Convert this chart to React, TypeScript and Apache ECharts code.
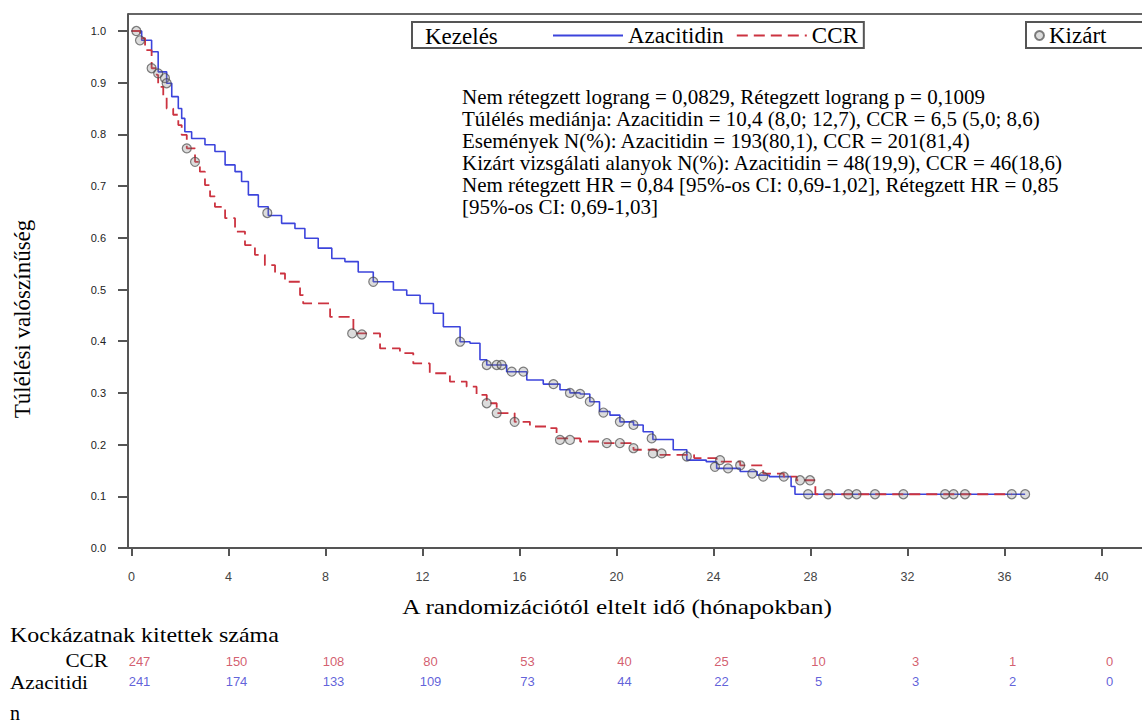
import React, { useEffect, useRef } from "react";
import * as echarts from "echarts";

// ---- Data ----
const azaTime = [0, 0.42, 0.83, 1.1, 1.45, 1.66, 1.93, 2.07, 2.2, 2.48, 3.03, 3.44, 3.86, 4.27, 4.54, 4.82, 5.23, 5.64, 6.19, 6.74, 7.15, 7.7, 8.26, 8.8, 9.35, 9.97, 10.8, 11.35, 11.9, 12.45, 12.86, 13.55, 13.96, 14.37, 14.65, 15.47, 16.3, 16.98, 17.67, 18.08, 18.5, 18.9, 19.3, 19.73, 20.14, 20.7, 21.1, 21.5, 22.34, 22.9, 23.7, 24.13, 25.1, 25.8, 26.3, 27.2, 27.36, 36.85];
const azaSurv = [1.0, 0.982, 0.96, 0.921, 0.899, 0.873, 0.85, 0.831, 0.805, 0.792, 0.78, 0.767, 0.741, 0.728, 0.709, 0.683, 0.66, 0.643, 0.628, 0.618, 0.599, 0.58, 0.56, 0.554, 0.534, 0.515, 0.499, 0.489, 0.473, 0.454, 0.428, 0.399, 0.396, 0.364, 0.354, 0.341, 0.325, 0.317, 0.306, 0.3, 0.298, 0.283, 0.264, 0.257, 0.244, 0.238, 0.225, 0.21, 0.19, 0.17, 0.167, 0.154, 0.148, 0.141, 0.138, 0.119, 0.104, 0.104];

const ccrTime = [0, 0.35, 0.56, 0.83, 1.04, 1.1, 1.31, 1.45, 1.72, 1.93, 2.07, 2.28, 2.62, 2.82, 3.03, 3.24, 3.44, 3.86, 4.27, 4.68, 5.09, 5.5, 5.92, 6.33, 6.95, 7.08, 8.19, 9.15, 10.25, 11.07, 11.62, 12.3, 13.13, 13.82, 14.23, 14.65, 15.06, 15.8, 16.43, 17.12, 17.53, 18.5, 19.5, 20.7, 21.66, 23.2, 24.13, 25.1, 26.05, 26.9, 27.43, 28.2, 36.3];
const ccrSurv = [1.0, 0.986, 0.963, 0.928, 0.915, 0.892, 0.873, 0.85, 0.838, 0.818, 0.799, 0.773, 0.747, 0.728, 0.702, 0.68, 0.66, 0.638, 0.612, 0.586, 0.567, 0.547, 0.531, 0.515, 0.489, 0.473, 0.447, 0.415, 0.386, 0.377, 0.357, 0.338, 0.322, 0.312, 0.296, 0.28, 0.261, 0.244, 0.235, 0.232, 0.212, 0.206, 0.203, 0.19, 0.18, 0.174, 0.167, 0.16, 0.144, 0.138, 0.131, 0.104, 0.104];

const azaCensTime = [0.35, 1.1, 1.38, 1.45, 5.6, 9.97, 13.55, 14.65, 15.06, 15.26, 15.68, 16.16, 17.4, 18.08, 18.5, 18.9, 19.46, 20.14, 20.7, 21.45, 22.9, 24.06, 24.6, 25.6, 26.05, 26.9, 27.9, 29.9, 30.66, 34.37, 36.85];
const azaCensSurv = [0.982, 0.918, 0.909, 0.899, 0.648, 0.515, 0.399, 0.354, 0.354, 0.354, 0.341, 0.341, 0.317, 0.3, 0.298, 0.283, 0.262, 0.244, 0.238, 0.212, 0.177, 0.157, 0.154, 0.144, 0.138, 0.138, 0.104, 0.104, 0.104, 0.104, 0.104];

const ccrCensTime = [0.2, 0.83, 2.28, 2.62, 9.1, 9.5, 14.65, 15.06, 15.8, 17.67, 18.08, 19.6, 20.14, 20.7, 21.5, 21.86, 24.27, 25.1, 27.57, 27.98, 28.73, 29.56, 31.83, 33.55, 33.9, 36.3];
const ccrCensSurv = [1.0, 0.928, 0.773, 0.747, 0.415, 0.413, 0.28, 0.261, 0.244, 0.209, 0.209, 0.203, 0.203, 0.193, 0.183, 0.183, 0.17, 0.16, 0.131, 0.131, 0.104, 0.104, 0.104, 0.104, 0.104, 0.104];

const xTicks = [0, 4, 8, 12, 16, 20, 24, 28, 32, 36, 40];
const yTicks = [0, 0.1, 0.2, 0.3, 0.4, 0.5, 0.6, 0.7, 0.8, 0.9, 1.0];

const riskTimes = [0, 4, 8, 12, 16, 20, 24, 28, 32, 36, 40];
const ccrRisk = [247, 150, 108, 80, 53, 40, 25, 10, 3, 1, 0];
const azaRisk = [241, 174, 133, 109, 73, 44, 22, 5, 3, 2, 0];

const statLines = [
  "Nem rétegzett lograng = 0,0829, Rétegzett lograng p = 0,1009",
  "Túlélés mediánja: Azacitidin = 10,4 (8,0; 12,7), CCR = 6,5 (5,0; 8,6)",
  "Események N(%): Azacitidin = 193(80,1), CCR = 201(81,4)",
  "Kizárt vizsgálati alanyok N(%): Azacitidin = 48(19,9), CCR = 46(18,6)",
  "Nem rétegzett HR = 0,84 [95%-os CI: 0,69-1,02], Rétegzett HR = 0,85",
  "[95%-os CI: 0,69-1,03]",
];

const BLUE = "#3c44dc";
const RED = "#cc3340";
const SERIF = '"Liberation Serif", "Times New Roman", serif';
const SANS = '"Liberation Sans", Arial, sans-serif';

export default function App() {
  const ref = useRef<HTMLDivElement>(null);

  useEffect(() => {
    if (!ref.current) return;
    const chart = echarts.init(ref.current, undefined, { renderer: "svg" });

    const zip = (a: number[], b: number[]) => a.map((v, i) => [v, b[i]]);
    const censorStyle = {
      color: "rgba(130,130,130,0.35)",
      borderColor: "rgba(70,70,70,0.85)",
      borderWidth: 1.2,
    };

    const axisLineStyle = { color: "#555", width: 2 };

    const text = (t: string, x: number, y: number, size: number, extra: any = {}) => ({
      type: "text",
      x,
      y,
      silent: true,
      ...extra,
      style: {
        text: t,
        fontSize: size,
        fontFamily: SERIF,
        fill: "#000",
        verticalAlign: "middle",
        align: "left",
        ...(extra.style || {}),
      },
    });

    const option: any = {
      animation: false,
      backgroundColor: "#fff",
      grid: [
        { left: 128, top: 14, width: 1014, height: 534 },
        { left: 139.5, top: 651, width: 970, height: 40 },
      ],
      xAxis: [
        {
          gridIndex: 0,
          type: "value",
          min: -0.144,
          max: 41.67,
          axisLine: { show: true, onZero: false, lineStyle: axisLineStyle },
          axisTick: { show: true, customValues: xTicks, length: 8, lineStyle: axisLineStyle },
          axisLabel: { customValues: xTicks, margin: 22, fontSize: 12.5, color: "#444", fontFamily: SANS },
          splitLine: { show: false },
        },
        { gridIndex: 1, type: "value", min: 0, max: 40, show: false },
      ],
      yAxis: [
        {
          gridIndex: 0,
          type: "value",
          min: 0,
          max: 1.0329,
          axisLine: { show: true, onZero: false, lineStyle: axisLineStyle },
          axisTick: { show: true, customValues: yTicks, length: 10, lineStyle: axisLineStyle },
          axisLabel: {
            customValues: yTicks,
            margin: 22,
            fontSize: 11,
            color: "#222",
            fontFamily: SANS,
            formatter: (v: number) => v.toFixed(1),
          },
          splitLine: { show: false },
        },
        { gridIndex: 1, type: "category", data: ["Azacitidin", "CCR"], show: false },
      ],
      legend: [
        {
          left: 412,
          top: 22,
          data: ["Azacitidin", "CCR"],
          itemWidth: 70,
          itemHeight: 14,
          itemGap: 12,
          padding: [2, 6, 1, 140],
          borderColor: "#555",
          borderWidth: 2,
          itemStyle: { opacity: 0 },
          textStyle: { fontFamily: SERIF, fontSize: 23, color: "#000" },
        },
        {
          left: 1026,
          top: 22,
          data: ["Kizárt"],
          itemWidth: 9,
          itemHeight: 9,
          padding: [2, 40, 1, 8],
          borderColor: "#555",
          borderWidth: 2,
          textStyle: { fontFamily: SERIF, fontSize: 23, color: "#000" },
        },
      ],
      series: [
        {
          name: "Azacitidin",
          type: "line",
          step: "end",
          symbol: "none",
          data: zip(azaTime, azaSurv),
          lineStyle: { color: BLUE, width: 1.6 },
          itemStyle: { color: BLUE },
          z: 3,
        },
        {
          name: "CCR",
          type: "line",
          step: "end",
          symbol: "none",
          data: zip(ccrTime, ccrSurv),
          lineStyle: { color: RED, width: 1.8, type: [11, 6] },
          itemStyle: { color: RED },
          z: 3,
        },
        {
          name: "Kizárt",
          type: "scatter",
          symbol: "circle",
          symbolSize: 9,
          data: zip(azaCensTime, azaCensSurv),
          itemStyle: censorStyle,
          z: 4,
        },
        {
          name: "Kizárt",
          type: "scatter",
          symbol: "circle",
          symbolSize: 9,
          data: zip(ccrCensTime, ccrCensSurv),
          itemStyle: censorStyle,
          z: 4,
        },
        {
          name: "riskCCR",
          type: "scatter",
          xAxisIndex: 1,
          yAxisIndex: 1,
          symbolSize: 1,
          itemStyle: { color: "transparent" },
          data: riskTimes.map((t, i) => [t, "CCR", ccrRisk[i]]),
          label: {
            show: true,
            position: "inside",
            formatter: (p: any) => String(p.value[2]),
            color: "#c8344a",
            fontSize: 13,
            fontFamily: SANS,
          },
        },
        {
          name: "riskAza",
          type: "scatter",
          xAxisIndex: 1,
          yAxisIndex: 1,
          symbolSize: 1,
          itemStyle: { color: "transparent" },
          data: riskTimes.map((t, i) => [t, "Azacitidin", azaRisk[i]]),
          label: {
            show: true,
            position: "inside",
            formatter: (p: any) => String(p.value[2]),
            color: "#3838d0",
            fontSize: 13,
            fontFamily: SANS,
          },
        },
      ],
      graphic: [
        { type: "line", silent: true, shape: { x1: 128, y1: 14, x2: 1142, y2: 14 }, style: { stroke: "#666", lineWidth: 2 } },
        text("Kezelés", 425, 36, 23),
        ...statLines.map((s, i) => text(s, 462, 97 + i * 22, 21)),
        text("Túlélési valószínűség", 22, 319, 23, { rotation: Math.PI / 2, style: { align: "center" } }),
        text("A randomizációtól eltelt idő (hónapokban)", 617, 607, 22, { scaleX: 1.15, style: { align: "center" } }),
        text("Kockázatnak kitettek száma", 10, 634, 22, { scaleX: 1.09 }),
        text("CCR", 108, 660, 19, { scaleX: 1.12, style: { align: "right" } }),
        text("Azacitidi", 10, 682, 19, { scaleX: 1.12 }),
        text("n", 10, 713, 20),
      ],
    };

    chart.setOption(option);
    return () => chart.dispose();
  }, []);

  return <div ref={ref} style={{ position: "absolute", left: 0, top: 0, width: 1142, height: 726 }} />;
}
